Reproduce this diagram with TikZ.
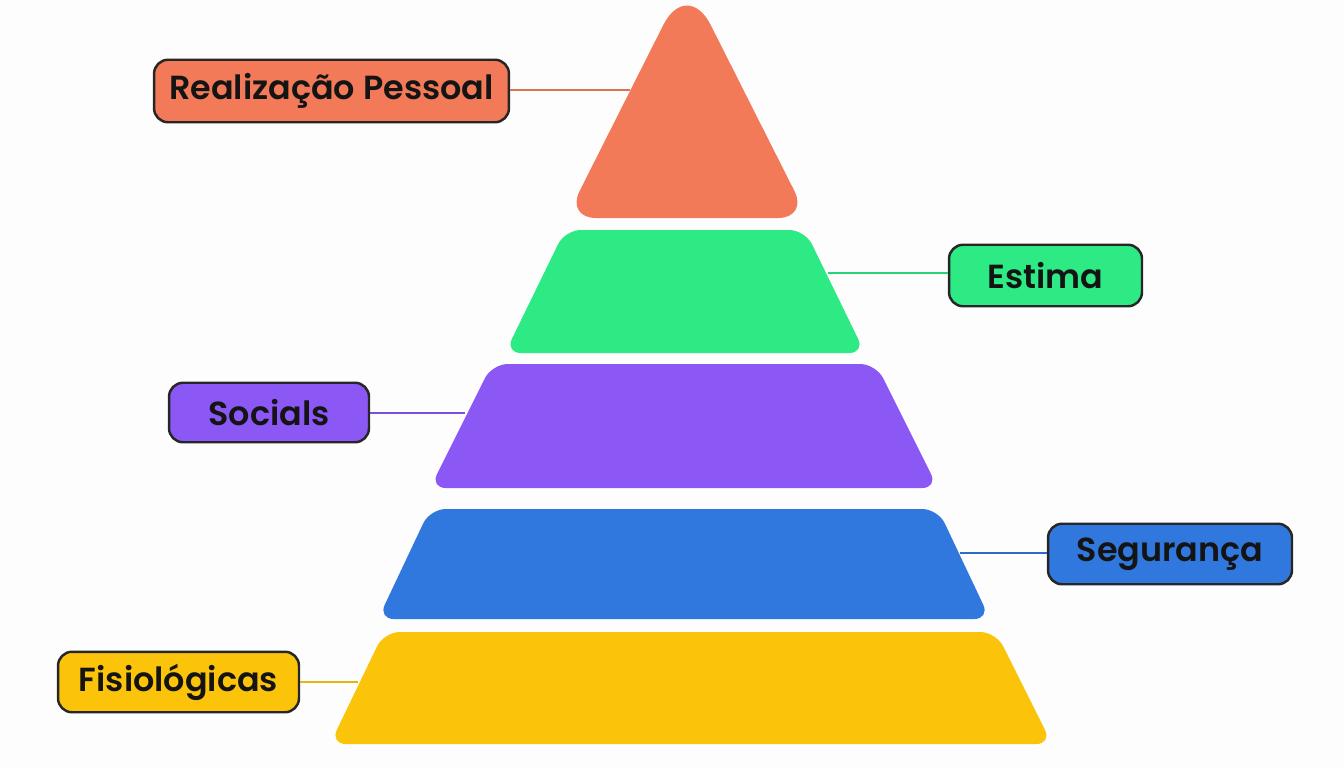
\documentclass[tikz,border=0pt]{standalone}
\usepackage{fontspec}
\newfontfamily\rotulofont{Poppins SemiBold}
\usetikzlibrary{positioning}
\definecolor{corFundo}{HTML}{FDFDFD}
\definecolor{corRealizacao}{HTML}{F27A58}
\definecolor{corEstima}{HTML}{2DEA85}
\definecolor{corSociais}{HTML}{8B57F5}
\definecolor{corSeguranca}{HTML}{3178DE}
\definecolor{corFisio}{HTML}{FBC40B}
\colorlet{corBorda}{black!85}

\begin{document}
\begin{tikzpicture}[
        x=0.02cm,
        y=-0.02cm,
        rotulo/.style={draw=corBorda, line width=1.4pt, rounded corners=8pt, inner sep=0pt,
            font=\rotulofont\fontsize{19}{22}\selectfont, text=black!92},
        ligacao/.style={line width=1.6pt},
        camada/.style={rounded corners=9pt}
    ]
        \useasboundingbox (0,0) rectangle (1344,768);
        \fill[corFundo] (0,0) rectangle (1344,768);

        % Pirâmide: topo triangular e quatro camadas trapezoidais.
        \fill[corRealizacao] (687,218) [rounded corners=17pt] -- (566,218) [rounded corners=30pt] -- (687,-22) [rounded corners=17pt] -- (808,218) -- cycle;
        \fill[camada, corEstima] (565,230) -- (805,230) -- (865,353) -- (505,353) -- cycle;
        \fill[camada, corSociais] (492,364) -- (876,364) -- (938,488) -- (430,488) -- cycle;
        \fill[camada, corSeguranca] (430,509) -- (938,509) -- (990,619) -- (378,619) -- cycle;
        \fill[camada, corFisio] (384,632) -- (996,632) -- (1052,744) -- (330,744) -- cycle;

        % Pontos de ligação nas bordas das camadas.
        \coordinate (pRealizacao) at (630,90);
        \coordinate (pEstima) at (828,273);
        \coordinate (pSociais) at (465,413);
        \coordinate (pSeguranca) at (960,553);
        \coordinate (pFisio) at (358,682);

        % Rótulos.
        \node[rotulo, fill=corRealizacao, minimum width=7.1cm, minimum height=1.25cm] (realizacao) at (331.5,91) {Realização Pessoal};
        \node[rotulo, fill=corEstima, minimum width=3.86cm, minimum height=1.23cm] (estima) at (1045.5,275.5) {Estima};
        \node[rotulo, fill=corSociais, minimum width=4.0cm, minimum height=1.19cm] (sociais) at (269,412.5) {Socials};
        \node[rotulo, fill=corSeguranca, minimum width=4.88cm, minimum height=1.21cm] (seguranca) at (1170,554) {Segurança};
        \node[rotulo, fill=corFisio, minimum width=4.82cm, minimum height=1.21cm] (fisio) at (178.5,682) {Fisiológicas};

        \draw[ligacao, corRealizacao!92!black] (realizacao.east |- pRealizacao) -- (pRealizacao);
        \draw[ligacao, corEstima!90!black] (estima.west |- pEstima) -- (pEstima);
        \draw[ligacao, corSociais!90!black] (sociais.east |- pSociais) -- (pSociais);
        \draw[ligacao, corSeguranca!90!black] (seguranca.west |- pSeguranca) -- (pSeguranca);
        \draw[ligacao, corFisio!92!black] (fisio.east |- pFisio) -- (pFisio);
    \end{tikzpicture}
\end{document}
